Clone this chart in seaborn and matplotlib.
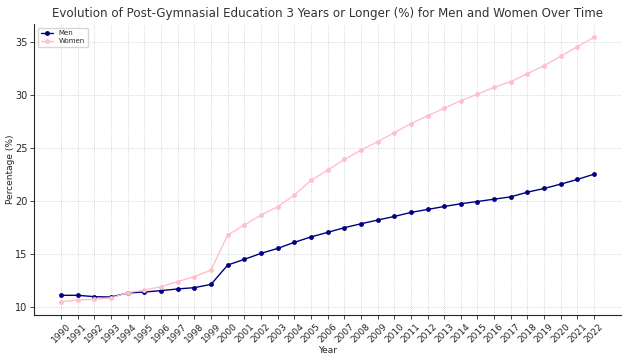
import matplotlib
matplotlib.use("Agg")
import matplotlib.pyplot as plt
import seaborn as sns
import pandas as pd

years = list(range(1990, 2023))
men = [11.13, 11.13, 11.00, 10.97, 11.35, 11.44, 11.57, 11.73, 11.85, 12.16,
       13.98, 14.52, 15.08, 15.55, 16.12, 16.63, 17.06, 17.50, 17.87, 18.22,
       18.56, 18.94, 19.22, 19.50, 19.76, 19.97, 20.19, 20.41, 20.85, 21.20,
       21.61, 22.05, 22.55]
women = [10.53, 10.69, 10.75, 10.88, 11.38, 11.63, 11.94, 12.42, 12.89, 13.51,
         16.81, 17.75, 18.69, 19.47, 20.57, 21.95, 22.92, 23.93, 24.81, 25.62,
         26.44, 27.32, 28.04, 28.76, 29.48, 30.08, 30.74, 31.27, 32.02, 32.78,
         33.66, 34.57, 35.44]


def main():
    df = pd.DataFrame({"Year": years, "Men": men, "Women": women})
    long = df.melt(id_vars="Year", var_name="Group", value_name="Percentage")

    sns.set_style("ticks")
    fig, ax = plt.subplots(figsize=(6.27, 3.55), dpi=100)
    sns.lineplot(data=long, x="Year", y="Percentage", hue="Group",
                 palette={"Men": "navy", "Women": "pink"},
                 marker="o", markersize=3.5, markeredgewidth=0, linewidth=1,
                 ax=ax)

    ax.set_xticks(years)
    ax.set_xticklabels([str(y) for y in years], rotation=45, fontsize=6.5)
    ax.tick_params(axis="y", labelsize=7)
    ax.tick_params(length=3, width=0.6, pad=2)
    ax.set_title("Evolution of Post-Gymnasial Education 3 Years or Longer (%) for Men and Women Over Time",
                 fontsize=8.6, color="#333333", pad=5)
    ax.set_xlabel("Year", fontsize=6.5, labelpad=1)
    ax.set_ylabel("Percentage (%)", fontsize=6.5, labelpad=0)
    ax.grid(True, linestyle=":", linewidth=0.6, color="#c8c8c8")
    sns.despine(ax=ax)
    ax.legend(loc="upper left", fontsize=5, frameon=True, title=None,
              handlelength=1.8, borderpad=0.4, labelspacing=0.3)

    fig.subplots_adjust(left=0.055, right=0.99, top=0.932, bottom=0.113)
    fig.savefig("out.png", dpi=100)


if __name__ == "__main__":
    main()
